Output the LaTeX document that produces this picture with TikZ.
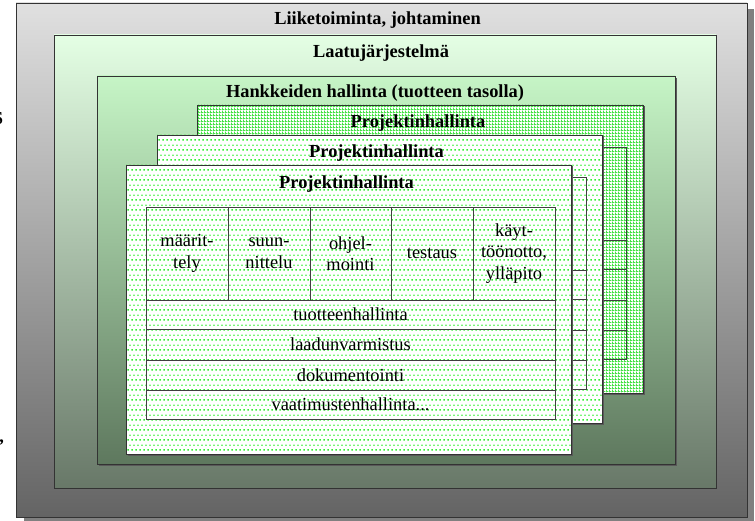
\documentclass[tikz,border=0pt]{standalone}
\usepackage{fontspec}
\setmainfont{Liberation Serif}
\usetikzlibrary{patterns}
\definecolor{dotgreen}{RGB}{50,240,50}
\definecolor{gridgreen}{RGB}{70,225,70}
\definecolor{outtop}{RGB}{224,224,224}
\definecolor{outbot}{RGB}{100,100,100}
\definecolor{qtop}{RGB}{228,255,228}
\definecolor{qbot}{RGB}{104,120,104}
\definecolor{htop}{RGB}{198,245,198}
\definecolor{hbot}{RGB}{94,120,94}
\newcommand\fnt{\fontsize{18.4}{21.5}\selectfont}
\pgfdeclarepatternformonly{pdots}{\pgfqpoint{0pt}{0pt}}{\pgfqpoint{4.4pt}{10pt}}{\pgfqpoint{4.4pt}{10pt}}{%
\pgfpathrectangle{\pgfqpoint{0.5pt}{0.5pt}}{\pgfqpoint{1.5pt}{1.5pt}}%
\pgfpathrectangle{\pgfqpoint{2.7pt}{5.5pt}}{\pgfqpoint{1.5pt}{1.5pt}}%
\pgfusepath{fill}}
\pgfdeclarepatternformonly{pgrid}{\pgfqpoint{0pt}{0pt}}{\pgfqpoint{3pt}{3pt}}{\pgfqpoint{3pt}{3pt}}{%
\pgfpathrectangle{\pgfqpoint{0pt}{0pt}}{\pgfqpoint{3pt}{1pt}}%
\pgfpathrectangle{\pgfqpoint{0pt}{0pt}}{\pgfqpoint{1pt}{3pt}}%
\pgfusepath{fill}}
% full phase table (front project)
\newcommand\phtable{%
  \node[cell, minimum width=82, minimum height=93] (c1) at (146,207) {määrit-\\tely};
  \node[cell, minimum width=82, minimum height=93] (c2) at (228,207) {suun-\\nittelu};
  \node[cell, minimum width=81, minimum height=93] (c3) at (310,207) {ohjel-\\mointi};
  \node[cell, minimum width=82, minimum height=93] (c4) at (391,207) {testaus};
  \node[cell, minimum width=82, minimum height=93] (c5) at (473,207) {käyt-\\töönotto,\\ylläpito};
  \node[cell, minimum width=409, minimum height=29] (r1) at (146,300) {tuotteenhallinta};
  \node[cell, minimum width=409, minimum height=31] (r2) at (146,329) {laadunvarmistus};
  \node[cell, minimum width=409, minimum height=30] (r3) at (146,360) {dokumentointi};
  \node[cell, minimum width=409, minimum height=29] (r4) at (146,390) {vaatimustenhallinta...};
}
% same table, only its lines (hidden behind the boxes in front)
\newcommand\phgrid{%
  \node[cell, minimum width=82, minimum height=93] (c1) at (146,207) {};
  \node[cell, minimum width=82, minimum height=93] (c2) at (228,207) {};
  \node[cell, minimum width=81, minimum height=93] (c3) at (310,207) {};
  \node[cell, minimum width=82, minimum height=93] (c4) at (391,207) {};
  \node[cell, minimum width=82, minimum height=93] (c5) at (473,207) {};
  \node[cell, minimum width=409, minimum height=29] (r1) at (146,300) {};
  \node[cell, minimum width=409, minimum height=31] (r2) at (146,329) {};
  \node[cell, minimum width=409, minimum height=30] (r3) at (146,360) {};
  \node[cell, minimum width=409, minimum height=29] (r4) at (146,390) {};
}
\begin{document}
\begin{tikzpicture}[x=1pt,y=-1pt,
  every node/.style={inner sep=0pt, outer sep=0pt},
  box/.style={anchor=north west, draw=black!80, line width=0.8pt},
  ttl/.style={font=\fnt\bfseries, anchor=center},
  cell/.style={anchor=north west, draw=black!75, line width=0.7pt, align=center, font=\fnt},
  dotsfill/.style={preaction={fill=white}, pattern=pdots, pattern color=dotgreen},
  gridfill/.style={preaction={fill=white}, pattern=pgrid, pattern color=gridgreen},
  shadow/.style={fill=black!65},
]
\useasboundingbox (0,0) rectangle (755,521);
% stray cut-off glyphs at the left margin
\node[font=\fnt\bfseries, anchor=base east] (strayA) at (3,125) {S};
\node[font=\fnt\bfseries, anchor=base east] (strayB) at (4,442) {,};
% outer
\fill[black!50] (24,9) rectangle (754,521);
\node[box, minimum width=731, minimum height=514, top color=outtop, bottom color=outbot] (outer) at (16,3) {};
\node[ttl] (outert) at ([xshift=-4pt, yshift=-17pt]outer.north) {Liiketoiminta, johtaminen};
% quality system
\node[box, minimum width=662, minimum height=453, top color=qtop, bottom color=qbot] (qual) at (54,35) {};
\node[ttl] (qualt) at ([xshift=-4pt, yshift=-18pt]qual.north) {Laatujärjestelmä};
% project portfolio
\fill[shadow] (99,78) rectangle (677,466);
\node[box, minimum width=578, minimum height=388, top color=htop, bottom color=hbot] (hank) at (97,76) {};
\node[ttl] (hankt) at ([xshift=-11pt, yshift=-17pt]hank.north) {Hankkeiden hallinta (tuotteen tasolla)};
% back project
\fill[shadow] (198.5,106.5) rectangle (644.5,394.5);
\node[box, gridfill, minimum width=446, minimum height=288] (back) at (197,105) {};
\node[ttl] (backt) at ([xshift=-2pt, yshift=-18pt]back.north) {Projektinhallinta};
\begin{scope}[shift={(71,-60)}, name prefix=b-]
\phgrid
\end{scope}
% middle project
\fill[shadow] (158.5,136.5) rectangle (603.5,424.5);
\node[box, dotsfill, minimum width=445, minimum height=288] (mid) at (157,135) {};
\node[ttl] (midt) at ([xshift=-3pt, yshift=-18pt]mid.north) {Projektinhallinta};
\begin{scope}[shift={(31,-30)}, name prefix=m-]
\phgrid
\end{scope}
% front project
\fill[shadow] (127.5,166.5) rectangle (572.5,455.5);
\node[box, dotsfill, minimum width=445, minimum height=289] (front) at (126,165) {};
\node[ttl] (frontt) at ([xshift=-2pt, yshift=-19pt]front.north) {Projektinhallinta};
\phtable
\end{tikzpicture}
\end{document}
